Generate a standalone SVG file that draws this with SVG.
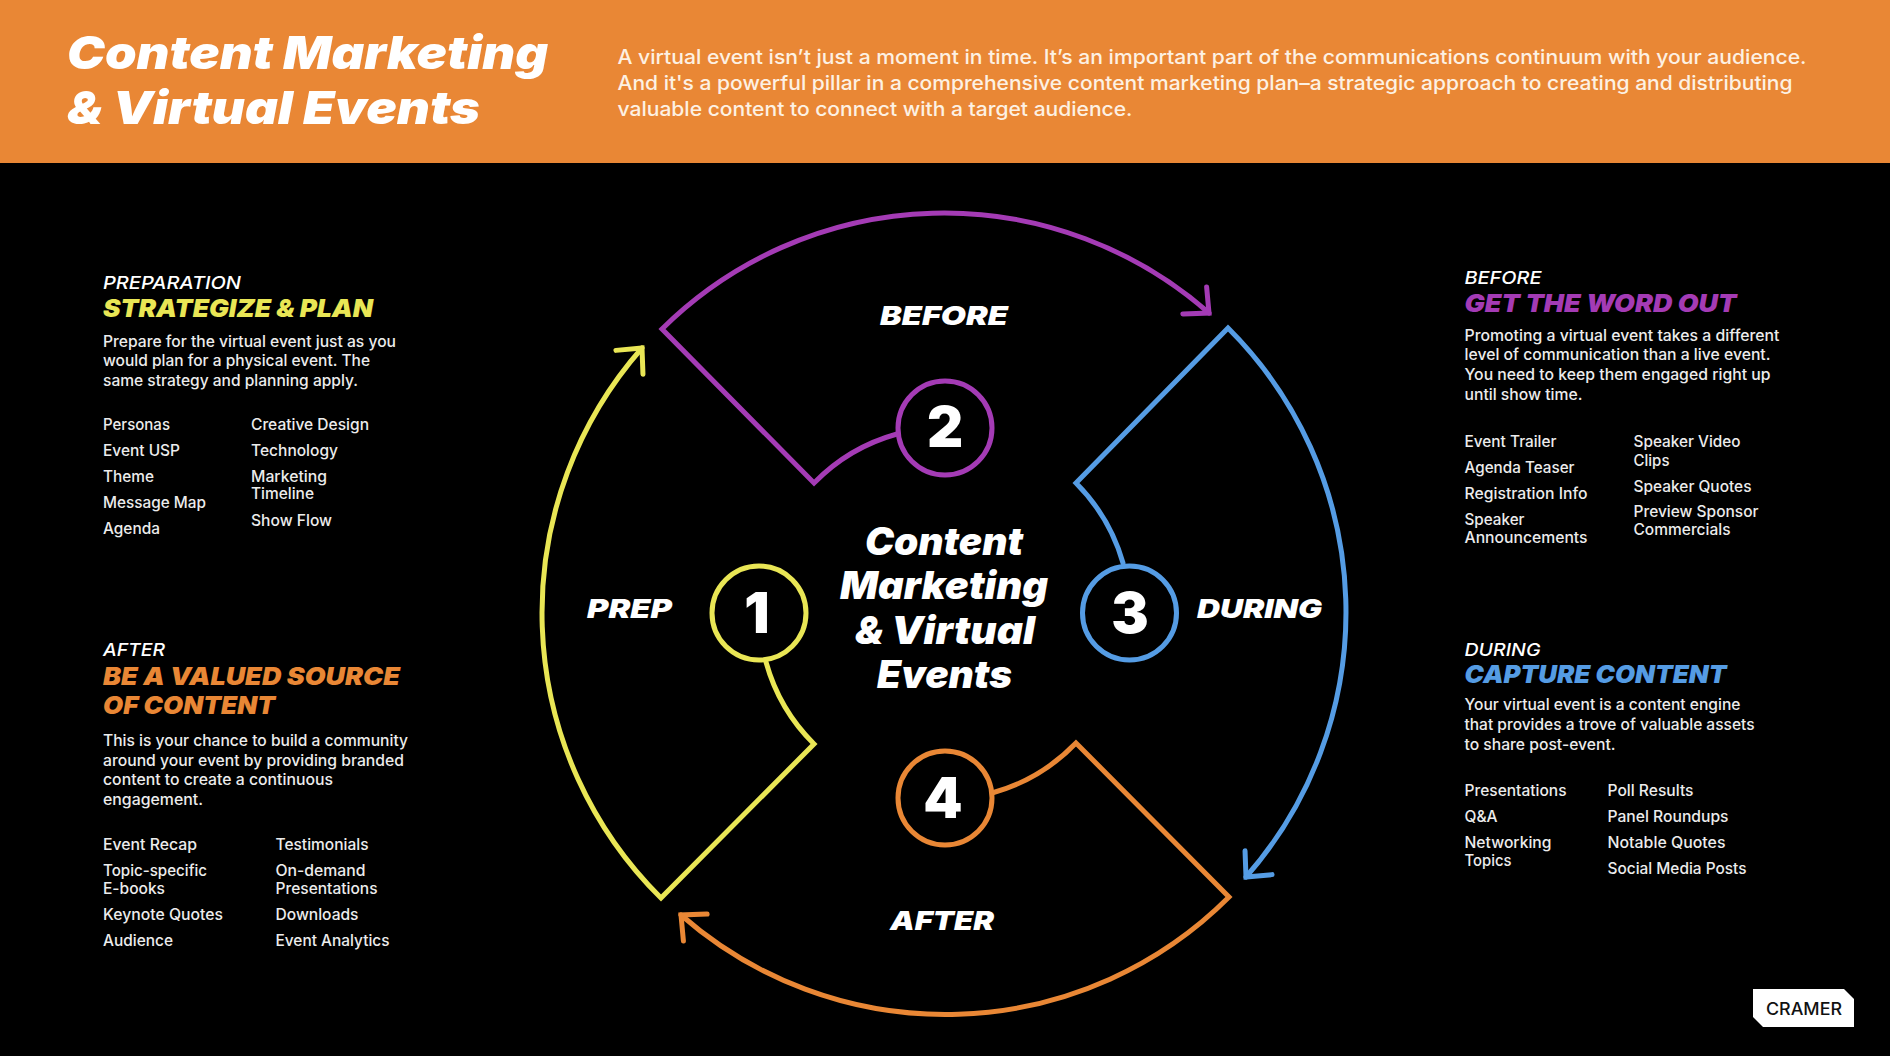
<svg xmlns="http://www.w3.org/2000/svg" width="1890" height="1056" viewBox="0 0 1890 1056">
<style>
text{font-family:"Inter","Liberation Sans","Noto Sans",sans-serif;fill:#fff}
.title{font-size:46px;font-weight:900;font-style:italic}
.desc{font-size:20px;font-weight:500;fill:#fdf1e3}
.kick{font-size:17.500px;font-weight:500;font-style:italic}
.head{font-size:24.500px;font-weight:900;font-style:italic}
.b{font-size:15.500px;font-weight:500;fill:#ececec}
.lab{font-size:26px;font-weight:900;font-style:italic}
.cen{font-size:38px;font-weight:900;font-style:italic}
.num{font-size:56px;font-weight:900;text-anchor:middle}
.y{fill:#E9E655}.p{fill:#A43BB5}.bl{fill:#559CE4}.o{fill:#E98735}
.arc{fill:none;stroke-width:5;stroke-linejoin:miter;stroke-miterlimit:10;stroke-linecap:round}
.ring{fill:#000;stroke-width:5}
.hd{fill:none;stroke-width:5;stroke-linecap:round;stroke-linejoin:miter}
</style>
<defs>
<marker id="mY" markerUnits="userSpaceOnUse" markerWidth="60" markerHeight="60" refX="0" refY="0" orient="auto" overflow="visible"><path class="hd" stroke="#E9E655" d="M-19-18L0 0L-19 18"/></marker>
<marker id="mP" markerUnits="userSpaceOnUse" markerWidth="60" markerHeight="60" refX="0" refY="0" orient="auto" overflow="visible"><path class="hd" stroke="#A43BB5" d="M-19-18L0 0L-19 18"/></marker>
<marker id="mB" markerUnits="userSpaceOnUse" markerWidth="60" markerHeight="60" refX="0" refY="0" orient="auto" overflow="visible"><path class="hd" stroke="#559CE4" d="M-19-18L0 0L-19 18"/></marker>
<marker id="mO" markerUnits="userSpaceOnUse" markerWidth="60" markerHeight="60" refX="0" refY="0" orient="auto" overflow="visible"><path class="hd" stroke="#E98735" d="M-19-18L0 0L-19 18"/></marker>
</defs>
<rect width="1890" height="1056" fill="#000"/>
<g id="header">
<rect width="1890" height="163" fill="#E98735"/>
<text class="title" x="67" y="68.500" textLength="481" lengthAdjust="spacingAndGlyphs">Content Marketing</text>
<text class="title" x="67" y="123.500" textLength="413" lengthAdjust="spacingAndGlyphs">&amp; Virtual Events</text>
<text class="desc" x="617.500" y="64" textLength="1189" lengthAdjust="spacingAndGlyphs">A virtual event isn’t just a moment in time. It’s an important part of the communications continuum with your audience.</text>
<text class="desc" x="617.500" y="90" textLength="1175" lengthAdjust="spacingAndGlyphs">And it's a powerful pillar in a comprehensive content marketing plan–a strategic approach to creating and distributing</text>
<text class="desc" x="617.500" y="116" textLength="515" lengthAdjust="spacingAndGlyphs">valuable content to connect with a target audience.</text>
</g>
<g id="connectors">
<path class="arc" stroke="#E9E655" marker-end="url(#mY)" d="M766 662A185 185 0 0 0 814 744L661 898A401 401 0 0 1 642 348"/>
<path class="arc" stroke="#A43BB5" marker-end="url(#mP)" d="M897 434A185 185 0 0 0 814 483L662 329A401 401 0 0 1 1209 313"/>
<path class="arc" stroke="#559CE4" marker-end="url(#mB)" d="M1123 563A185 185 0 0 0 1076 483L1228 328A401 401 0 0 1 1246 877"/>
<path class="arc" stroke="#E98735" marker-end="url(#mO)" d="M992 793A185 185 0 0 0 1076 743L1229 897A401 401 0 0 1 681 915"/>
</g>
<g id="node-1"><circle class="ring" cx="759" cy="613" r="47" stroke="#E9E655"/><text class="num" x="757" y="633">1</text><text class="lab" x="587" y="618" textLength="85" lengthAdjust="spacingAndGlyphs">PREP</text></g>
<g id="node-2"><circle class="ring" cx="945" cy="428" r="47" stroke="#A43BB5"/><text class="num" x="945" y="447">2</text><text class="lab" x="880" y="325" textLength="128" lengthAdjust="spacingAndGlyphs">BEFORE</text></g>
<g id="node-3"><circle class="ring" cx="1129.500" cy="613" r="47" stroke="#559CE4"/><text class="num" x="1130" y="633">3</text><text class="lab" x="1197" y="618" textLength="125" lengthAdjust="spacingAndGlyphs">DURING</text></g>
<g id="node-4"><circle class="ring" cx="945" cy="798" r="47" stroke="#E98735"/><text class="num" x="943" y="818">4</text><text class="lab" x="890" y="930" textLength="104" lengthAdjust="spacingAndGlyphs">AFTER</text></g>
<g id="center">
<text class="cen" x="865" y="554.500" textLength="158" lengthAdjust="spacingAndGlyphs">Content</text>
<text class="cen" x="840" y="599" textLength="208" lengthAdjust="spacingAndGlyphs">Marketing</text>
<text class="cen" x="855" y="643.500" textLength="180" lengthAdjust="spacingAndGlyphs">&amp; Virtual</text>
<text class="cen" x="877" y="687.500" textLength="135" lengthAdjust="spacingAndGlyphs">Events</text>
</g>
<g id="panel-prep">
<text class="kick" x="103" y="288.500" textLength="138" lengthAdjust="spacingAndGlyphs">PREPARATION</text>
<text class="head y" x="103" y="317" textLength="270" lengthAdjust="spacingAndGlyphs">STRATEGIZE &amp; PLAN</text>
<text class="b" x="103" y="346.500" textLength="293" lengthAdjust="spacingAndGlyphs">Prepare for the virtual event just as you</text>
<text class="b" x="103" y="366" textLength="267" lengthAdjust="spacingAndGlyphs">would plan for a physical event. The</text>
<text class="b" x="103" y="386" textLength="255" lengthAdjust="spacingAndGlyphs">same strategy and planning apply.</text>
<text class="b" x="103" y="430" textLength="67" lengthAdjust="spacingAndGlyphs">Personas</text>
<text class="b" x="103" y="456" textLength="77" lengthAdjust="spacingAndGlyphs">Event USP</text>
<text class="b" x="103" y="482" textLength="51" lengthAdjust="spacingAndGlyphs">Theme</text>
<text class="b" x="103" y="508" textLength="103" lengthAdjust="spacingAndGlyphs">Message Map</text>
<text class="b" x="103" y="534" textLength="57" lengthAdjust="spacingAndGlyphs">Agenda</text>
<text class="b" x="251" y="430" textLength="118" lengthAdjust="spacingAndGlyphs">Creative Design</text>
<text class="b" x="251" y="456" textLength="87" lengthAdjust="spacingAndGlyphs">Technology</text>
<text class="b" x="251" y="482" textLength="76" lengthAdjust="spacingAndGlyphs">Marketing</text>
<text class="b" x="251" y="499" textLength="63" lengthAdjust="spacingAndGlyphs">Timeline</text>
<text class="b" x="251" y="525.500" textLength="81" lengthAdjust="spacingAndGlyphs">Show Flow</text>
</g>
<g id="panel-after">
<text class="kick" x="103" y="656" textLength="62" lengthAdjust="spacingAndGlyphs">AFTER</text>
<text class="head o" x="103" y="685" textLength="297" lengthAdjust="spacingAndGlyphs">BE A VALUED SOURCE</text>
<text class="head o" x="103" y="714" textLength="172" lengthAdjust="spacingAndGlyphs">OF CONTENT</text>
<text class="b" x="103" y="746" textLength="305" lengthAdjust="spacingAndGlyphs">This is your chance to build a community</text>
<text class="b" x="103" y="765.500" textLength="301" lengthAdjust="spacingAndGlyphs">around your event by providing branded</text>
<text class="b" x="103" y="785" textLength="230" lengthAdjust="spacingAndGlyphs">content to create a continuous</text>
<text class="b" x="103" y="804.500" textLength="100" lengthAdjust="spacingAndGlyphs">engagement.</text>
<text class="b" x="103" y="850" textLength="94" lengthAdjust="spacingAndGlyphs">Event Recap</text>
<text class="b" x="103" y="876" textLength="104" lengthAdjust="spacingAndGlyphs">Topic-specific</text>
<text class="b" x="103" y="894" textLength="62" lengthAdjust="spacingAndGlyphs">E-books</text>
<text class="b" x="103" y="920" textLength="120" lengthAdjust="spacingAndGlyphs">Keynote Quotes</text>
<text class="b" x="103" y="945.500" textLength="70" lengthAdjust="spacingAndGlyphs">Audience</text>
<text class="b" x="275.500" y="850" textLength="93" lengthAdjust="spacingAndGlyphs">Testimonials</text>
<text class="b" x="275.500" y="876" textLength="90" lengthAdjust="spacingAndGlyphs">On-demand</text>
<text class="b" x="275.500" y="894" textLength="102" lengthAdjust="spacingAndGlyphs">Presentations</text>
<text class="b" x="275.500" y="920" textLength="83" lengthAdjust="spacingAndGlyphs">Downloads</text>
<text class="b" x="275.500" y="945.500" textLength="114" lengthAdjust="spacingAndGlyphs">Event Analytics</text>
</g>
<g id="panel-before">
<text class="kick" x="1464.500" y="284" textLength="77" lengthAdjust="spacingAndGlyphs">BEFORE</text>
<text class="head p" x="1464.500" y="312" textLength="272" lengthAdjust="spacingAndGlyphs">GET THE WORD OUT</text>
<text class="b" x="1464.500" y="340.500" textLength="315" lengthAdjust="spacingAndGlyphs">Promoting a virtual event takes a different</text>
<text class="b" x="1464.500" y="360" textLength="306" lengthAdjust="spacingAndGlyphs">level of communication than a live event.</text>
<text class="b" x="1464.500" y="380" textLength="306" lengthAdjust="spacingAndGlyphs">You need to keep them engaged right up</text>
<text class="b" x="1464.500" y="400" textLength="118" lengthAdjust="spacingAndGlyphs">until show time.</text>
<text class="b" x="1464.500" y="447" textLength="92" lengthAdjust="spacingAndGlyphs">Event Trailer</text>
<text class="b" x="1464.500" y="473" textLength="110" lengthAdjust="spacingAndGlyphs">Agenda Teaser</text>
<text class="b" x="1464.500" y="499" textLength="123" lengthAdjust="spacingAndGlyphs">Registration Info</text>
<text class="b" x="1464.500" y="525" textLength="60" lengthAdjust="spacingAndGlyphs">Speaker</text>
<text class="b" x="1464.500" y="543" textLength="123" lengthAdjust="spacingAndGlyphs">Announcements</text>
<text class="b" x="1633.500" y="447" textLength="107" lengthAdjust="spacingAndGlyphs">Speaker Video</text>
<text class="b" x="1633.500" y="465.500" textLength="36" lengthAdjust="spacingAndGlyphs">Clips</text>
<text class="b" x="1633.500" y="491.500" textLength="118" lengthAdjust="spacingAndGlyphs">Speaker Quotes</text>
<text class="b" x="1633.500" y="517" textLength="125" lengthAdjust="spacingAndGlyphs">Preview Sponsor</text>
<text class="b" x="1633.500" y="535" textLength="97" lengthAdjust="spacingAndGlyphs">Commercials</text>
</g>
<g id="panel-during">
<text class="kick" x="1464.500" y="656" textLength="76" lengthAdjust="spacingAndGlyphs">DURING</text>
<text class="head bl" x="1464.500" y="682.500" textLength="262" lengthAdjust="spacingAndGlyphs">CAPTURE CONTENT</text>
<text class="b" x="1464.500" y="710" textLength="276" lengthAdjust="spacingAndGlyphs">Your virtual event is a content engine</text>
<text class="b" x="1464.500" y="730" textLength="290" lengthAdjust="spacingAndGlyphs">that provides a trove of valuable assets</text>
<text class="b" x="1464.500" y="750" textLength="151" lengthAdjust="spacingAndGlyphs">to share post-event.</text>
<text class="b" x="1464.500" y="795.500" textLength="102" lengthAdjust="spacingAndGlyphs">Presentations</text>
<text class="b" x="1464.500" y="821.500" textLength="33" lengthAdjust="spacingAndGlyphs">Q&amp;A</text>
<text class="b" x="1464.500" y="847.500" textLength="87" lengthAdjust="spacingAndGlyphs">Networking</text>
<text class="b" x="1464.500" y="866" textLength="47" lengthAdjust="spacingAndGlyphs">Topics</text>
<text class="b" x="1607.500" y="795.500" textLength="86" lengthAdjust="spacingAndGlyphs">Poll Results</text>
<text class="b" x="1607.500" y="821.500" textLength="121" lengthAdjust="spacingAndGlyphs">Panel Roundups</text>
<text class="b" x="1607.500" y="847.500" textLength="118" lengthAdjust="spacingAndGlyphs">Notable Quotes</text>
<text class="b" x="1607.500" y="874" textLength="139" lengthAdjust="spacingAndGlyphs">Social Media Posts</text>
</g>
<g id="logo">
<path d="M1753 989H1844L1854 999V1027H1763L1753 1017Z" fill="#fff"/>
<text x="1766" y="1014.500" textLength="76" lengthAdjust="spacingAndGlyphs" style="font-size:17px;font-weight:500;fill:#111">CRAMER</text>
</g>
</svg>
